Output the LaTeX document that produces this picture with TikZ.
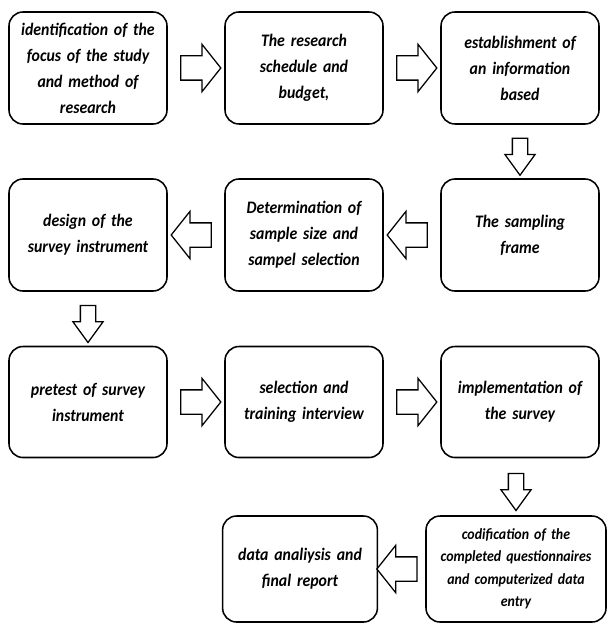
\documentclass[tikz,border=0pt]{standalone}
\usepackage{fontspec}
\setmainfont{Carlito}[FakeStretch=0.9]
\usetikzlibrary{positioning, shapes.arrows}

\begin{document}
\begin{tikzpicture}
    [
        node distance=4.175cm and 5.4cm, on grid,
        step_box/.style={rectangle, rounded corners=3.5mm, draw=black, line width=1.1pt, minimum width=3.95cm, minimum height=2.8cm, text width=3.8cm, align=center, inner sep=1pt, font=\fontsize{12.5}{18.5}\selectfont\bfseries\itshape},
        block_arrow/.style={single arrow, draw=black, line width=0.9pt, fill=white, minimum height=1cm, inner xsep=0pt, inner ysep=0.2875cm, single arrow head extend=0.2875cm, single arrow tip angle=103, sloped, allow upside down, midway},
        down_arrow/.style={block_arrow, minimum height=0.925cm, inner ysep=0.175cm, single arrow head extend=0.1875cm, single arrow tip angle=72},
    ]
        \useasboundingbox (0,0) rectangle (15.225,-15.625);
        \node[step_box] (focus) at (2.2,-1.7) {identification of the\\ focus of the study\\ and method of\\ research};
        \node[step_box] (budget) [right = of focus] {The research\\ schedule and\\ budget,};
        \node[step_box] (info) [right = of budget] {establishment of\\ an information\\ based};
        \node[step_box] (frame) [below = of info] {The sampling\\ frame};
        \node[step_box] (sample) [below = of budget] {Determination of\\ sample size and\\ sampel selection};
        \node[step_box] (design) [below = of focus] {design of the\\ survey instrument};
        \node[step_box, minimum height=2.775cm] (pretest) [below = of design] {pretest of survey\\ instrument};
        \node[step_box, minimum height=2.775cm] (training) [right = of pretest] {selection and\\ training interview};
        \node[step_box, minimum height=2.775cm] (survey) [right = of training] {implementation of\\ the survey};
        \node[step_box, minimum width=4.5cm, minimum height=2.65cm, text width=4.35cm, font=\fontsize{11}{16}\selectfont\bfseries\itshape] (coding) [below = of survey, xshift=-0.1cm] {codification of the\\ completed questionnaires\\ and computerized data\\ entry};
        \node[step_box, minimum width=3.85cm, minimum height=2.65cm] (report) [left = of coding] {data analiysis and\\ final report};
        \path (focus) -- (budget) node[block_arrow] {};
        \path (budget) -- (info) node[block_arrow] {};
        \path (info) -- (frame) node[down_arrow] {};
        \path (frame) -- (sample) node[block_arrow] {};
        \path (sample) -- (design) node[block_arrow] {};
        \path (design) -- (pretest) node[down_arrow] {};
        \path (pretest) -- (training) node[block_arrow] {};
        \path (training) -- (survey) node[block_arrow] {};
        \path (survey.south -| coding.north) -- (coding.north) node[down_arrow] {};
        \path (coding) -- (report) node[block_arrow] {};
    \end{tikzpicture}
\end{document}
